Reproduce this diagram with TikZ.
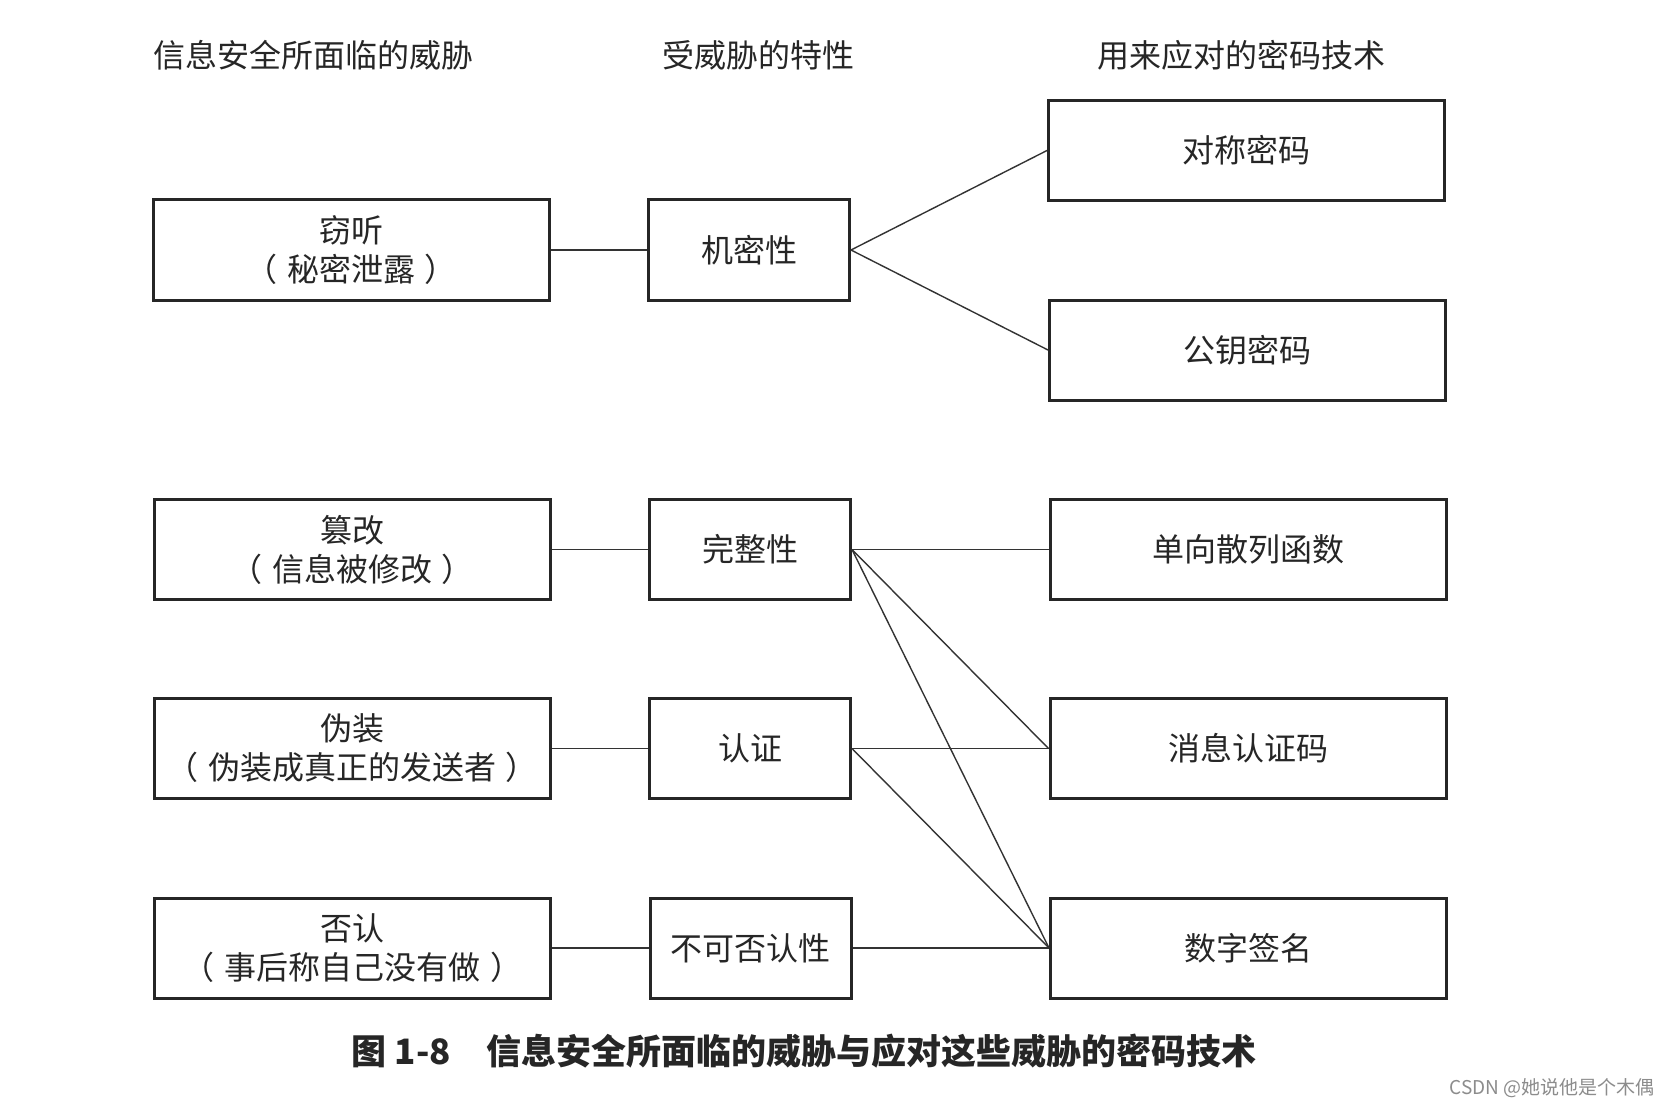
\documentclass[tikz,border=0pt]{standalone}
\usepackage{fontspec}
\setmainfont{Noto Sans CJK SC}
\newfontfamily\cjk{Noto Sans CJK SC}
\newcommand{\ps}{\hspace{0.3em}}
\begin{document}
\begin{tikzpicture}[x=1pt,y=-1pt,
  box/.style={draw=black!85,line width=3pt,minimum height=100pt,inner sep=0pt,align=center,font=\fontsize{32}{39}\selectfont\cjk,text=black!85},
  wbox/.style={box,minimum width=396pt},
  mbox/.style={box,minimum width=201pt},
  link/.style={draw=black!80,line width=1.4pt},
  head/.style={font=\fontsize{32}{36}\selectfont\cjk,text=black!85,inner sep=0pt}]
\useasboundingbox (0,0) rectangle (1660,1102);
\fill[white] (0,0) rectangle (1660,1102);
% headers
\node[head,anchor=west] (h1) at (153,55) {信息安全所面临的威胁};
\node[head] (h2) at (758,55) {受威胁的特性};
\node[head] (h3) at (1241,55) {用来应对的密码技术};
% left column
\node[wbox] (t1) at (351,250) {窃听\\（\ps 秘密泄露\ps ）};
\node[wbox] (t2) at (352,549.5) {篡改\\（\ps 信息被修改\ps ）};
\node[wbox] (t3) at (352,748.5) {伪装\\（\ps 伪装成真正的发送者\ps ）};
\node[wbox] (t4) at (352.5,948) {否认\\（\ps 事后称自己没有做\ps ）};
% middle column
\node[mbox] (p1) at (749,250) {机密性};
\node[mbox] (p2) at (750,549.5) {完整性};
\node[mbox] (p3) at (750,748.5) {认证};
\node[mbox] (p4) at (750.5,948) {不可否认性};
% right column
\node[wbox] (c1) at (1246.5,150.5) {对称密码};
\node[wbox] (c2) at (1247.5,350) {公钥密码};
\node[wbox] (c3) at (1248,549.5) {单向散列函数};
\node[wbox] (c4) at (1248,748.5) {消息认证码};
\node[wbox] (c5) at (1248.5,948) {数字签名};
% connectors
\draw[link] (t1.east) -- (p1.west);
\draw[link] (t2.east) -- (p2.west);
\draw[link] (t3.east) -- (p3.west);
\draw[link] (t4.east) -- (p4.west);
\draw[link] (p1.east) -- (c1.west);
\draw[link] (p1.east) -- (c2.west);
\draw[link] (p2.east) -- (c3.west);
\draw[link] (p2.east) -- (c4.west);
\draw[link] (p2.east) -- (c5.west);
\draw[link] (p3.east) -- (c4.west);
\draw[link] (p3.east) -- (c5.west);
\draw[link] (p4.east) -- (c5.west);
% caption
\node[font=\fontsize{35}{40}\selectfont\cjk\bfseries,text=black!85,inner sep=0pt] (cap) at (804,1051) {图 1-8\hspace{1em}信息安全所面临的威胁与应对这些威胁的密码技术};
\node[font=\fontsize{19}{22}\selectfont\cjk,text=black!45,anchor=east,inner sep=0pt] (wm) at (1655,1088) {CSDN @她说他是个木偶};
\end{tikzpicture}
\end{document}
